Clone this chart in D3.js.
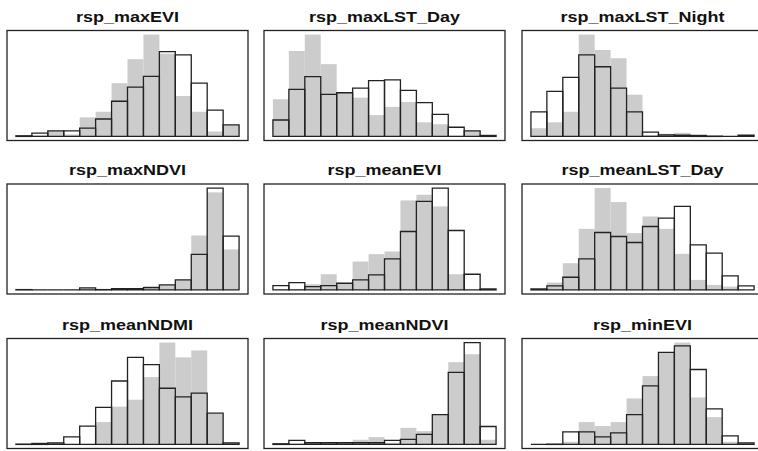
<!DOCTYPE html>
<html>
<head>
<meta charset="utf-8">
<script src="https://cdn.jsdelivr.net/npm/d3@7"></script>
<style>
    body { margin: 0; background: #fff; }
    svg { display: block; }
</style>
</head>
<body>
<svg id="chart" width="758" height="451"></svg>
<script>
// Panel titles, row by row
const titles = ['rsp_maxEVI', 'rsp_maxLST_Day', 'rsp_maxLST_Night',
    'rsp_maxNDVI', 'rsp_meanEVI', 'rsp_meanLST_Day',
    'rsp_meanNDMI', 'rsp_meanNDVI', 'rsp_minEVI'];

// Bin counts (14 bins per panel): gray = filled histogram, line = outlined histogram
const maxEVI_gray = [1, 3, 17, 6, 58, 75, 162, 235, 310, 252, 123, 75, 15, 35];
const maxEVI_line = [2, 10, 17, 17, 25, 53, 107, 150, 183, 258, 248, 162, 80, 35];
const maxLSTDay_gray = [113, 260, 310, 220, 133, 118, 65, 90, 105, 43, 37, 2, 17, 0];
const maxLSTDay_line = [50, 143, 182, 128, 133, 147, 170, 172, 140, 103, 67, 28, 17, 3];
const maxLSTNight_gray = [25, 43, 75, 310, 263, 238, 127, 4, 8, 11, 3, 1, 0, 2];
const maxLSTNight_line = [75, 137, 180, 248, 212, 147, 75, 13, 5, 4, 3, 1, 0, 4];
const maxNDVI_gray = [1, 0, 0, 1, 5, 2, 4, 4, 12, 15, 30, 164, 294, 122];
const maxNDVI_line = [1, 0, 0, 0, 6, 1, 4, 4, 7, 15, 30, 107, 307, 162];
const meanEVI_gray = [2, 3, 17, 47, 20, 85, 107, 115, 268, 285, 250, 47, 0, 0];
const meanEVI_line = [13, 22, 10, 13, 20, 30, 45, 93, 175, 265, 305, 178, 47, 3];
const meanLSTDay_gray = [1, 22, 80, 183, 305, 263, 170, 220, 183, 108, 30, 15, 10, 0];
const meanLSTDay_line = [3, 12, 38, 93, 172, 160, 142, 190, 215, 250, 135, 110, 42, 12];
const meanNDMI_gray = [1, 2, 5, 0, 0, 68, 115, 136, 205, 310, 265, 286, 93, 5];
const meanNDMI_line = [1, 3, 5, 23, 56, 113, 193, 265, 243, 171, 145, 156, 95, 5];
const meanNDVI_gray = [1, 2, 5, 5, 5, 14, 22, 5, 50, 40, 90, 248, 272, 14];
const meanNDVI_line = [2, 12, 5, 5, 5, 5, 5, 12, 15, 30, 90, 217, 307, 54];
const minEVI_gray = [0, 1, 8, 68, 56, 68, 140, 208, 280, 310, 143, 83, 8, 5];
const minEVI_line = [0, 1, 38, 38, 23, 35, 91, 178, 280, 300, 228, 108, 26, 5];

const grays = [maxEVI_gray, maxLSTDay_gray, maxLSTNight_gray, maxNDVI_gray, meanEVI_gray,
    meanLSTDay_gray, meanNDMI_gray, meanNDVI_gray, minEVI_gray];
const lines = [maxEVI_line, maxLSTDay_line, maxLSTNight_line, maxNDVI_line, meanEVI_line,
    meanLSTDay_line, meanNDMI_line, meanNDVI_line, minEVI_line];

// Layout
const colX = [7, 264, 522];
const rowY = [30.5, 184, 338.5];
const boxW = 241;
const boxH = 110;

const svg = d3.select('#chart');

titles.forEach((title, i) => {
    const x0 = colX[i % 3];
    const y0 = rowY[Math.floor(i / 3)];
    const gray = grays[i];
    const line = lines[i];
    const n = gray.length;
    const maxY = d3.max(gray.concat(line));

    // R-style axes: 4% padding on both ends
    const xScale = d3.scaleLinear()
        .domain([-0.04 * n, n * 1.04])
        .range([x0, x0 + boxW]);
    const yScale = d3.scaleLinear()
        .domain([-0.04 * maxY, maxY * 1.04])
        .range([y0 + boxH, y0]);

    const g = svg.append('g');

    g.selectAll('rect.gray')
        .data(gray)
        .enter()
        .append('rect')
        .attr('class', 'gray')
        .attr('x', (d, k) => xScale(k))
        .attr('width', (d, k) => xScale(k + 1) - xScale(k))
        .attr('y', d => yScale(d))
        .attr('height', d => yScale(0) - yScale(d))
        .style('fill', '#cccccc');

    // Outlined bars as paths so empty bins still show a baseline stroke
    g.selectAll('path.line')
        .data(line)
        .enter()
        .append('path')
        .attr('class', 'line')
        .attr('d', (d, k) => `M${xScale(k)},${yScale(0)}V${yScale(d)}H${xScale(k + 1)}V${yScale(0)}Z`)
        .style('fill', 'none')
        .style('stroke', '#222')
        .style('stroke-width', 1.3);

    // Plot box
    g.append('rect')
        .attr('x', x0)
        .attr('y', y0)
        .attr('width', boxW)
        .attr('height', boxH)
        .style('fill', 'none')
        .style('stroke', '#222')
        .style('stroke-width', 1.3);

    // Title
    const cx = x0 + boxW / 2;
    g.append('text')
        .attr('transform', `translate(${cx}, ${y0 - 9}) scale(1.2, 1)`)
        .attr('text-anchor', 'middle')
        .style('font-family', '"Liberation Sans", Arial, sans-serif')
        .style('font-weight', 'bold')
        .style('font-size', '15px')
        .style('fill', '#111')
        .text(title);
});
</script>
</body>
</html>
